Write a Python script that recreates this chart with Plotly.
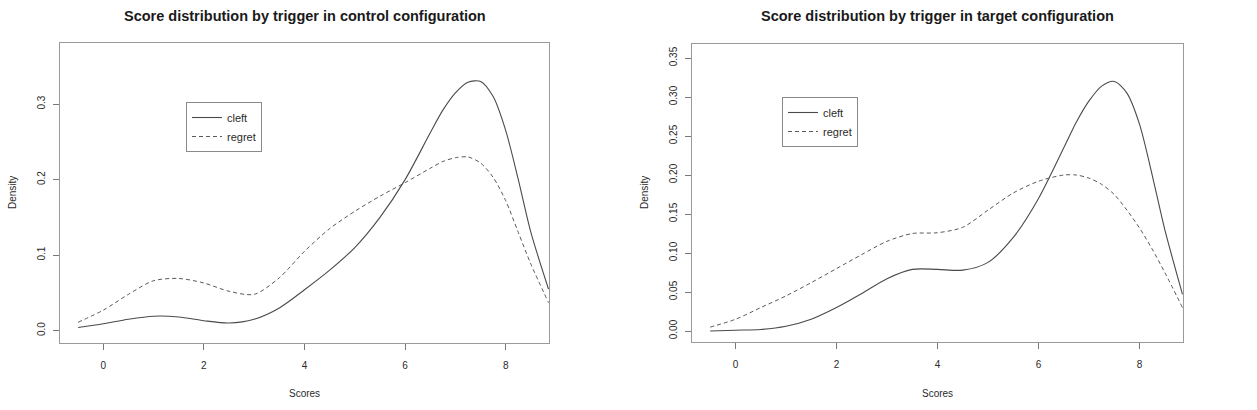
import plotly.graph_objects as go

# ---------------- data ----------------
scores = [-0.5, 0, 0.5, 1, 1.5, 2, 2.5, 3, 3.5, 4, 4.5, 5, 5.5, 6, 6.5, 6.75,
          7, 7.25, 7.5, 7.75, 8, 8.25, 8.5, 8.85]

control_cleft = [0.004, 0.009, 0.015, 0.019, 0.018, 0.013, 0.010, 0.015, 0.030, 0.054,
                 0.080, 0.110, 0.150, 0.200, 0.262, 0.292,
                 0.315, 0.329, 0.330, 0.310, 0.265, 0.200, 0.130, 0.055]
control_regret = [0.011, 0.027, 0.048, 0.066, 0.069, 0.063, 0.052, 0.048, 0.070, 0.105,
                  0.135, 0.158, 0.178, 0.196, 0.215, 0.224,
                  0.229, 0.230, 0.222, 0.203, 0.172, 0.130, 0.088, 0.037]

target_cleft = [0.000, 0.001, 0.002, 0.006, 0.015, 0.030, 0.048, 0.067, 0.079, 0.079,
                0.078, 0.088, 0.120, 0.170, 0.235, 0.268,
                0.295, 0.314, 0.320, 0.305, 0.265, 0.200, 0.130, 0.047]
target_regret = [0.005, 0.015, 0.030, 0.045, 0.062, 0.080, 0.098, 0.115, 0.125, 0.126,
                 0.133, 0.155, 0.177, 0.192, 0.200, 0.200,
                 0.196, 0.188, 0.175, 0.155, 0.132, 0.105, 0.075, 0.030]

x_ticks = [0, 2, 4, 6, 8]
y_ticks_control = [0.0, 0.1, 0.2, 0.3]
y_ticks_target = [0.00, 0.05, 0.10, 0.15, 0.20, 0.25, 0.30, 0.35]

titles = ["Score distribution by trigger in control configuration",
          "Score distribution by trigger in target configuration"]

# ---------------- styling ----------------
FONT = "Liberation Sans, Arial, Helvetica, sans-serif"
TXT = "#2a2a2a"
LINE = "#4a4a4a"
BOX = "#9a9a9a"
W, H = 1257, 410

fig = go.Figure()

solid = dict(color=LINE, width=1.1)
dashed = dict(color="#5a5a5a", width=1.0, dash="4px,3px")

fig.add_trace(go.Scatter(x=scores, y=control_cleft, mode="lines", name="cleft",
                         line=dict(shape="spline", smoothing=0.8, **solid),
                         xaxis="x", yaxis="y", legend="legend"))
fig.add_trace(go.Scatter(x=scores, y=control_regret, mode="lines", name="regret",
                         line=dict(shape="spline", smoothing=0.8, **dashed),
                         xaxis="x", yaxis="y", legend="legend"))
fig.add_trace(go.Scatter(x=scores, y=target_cleft, mode="lines", name="cleft",
                         line=dict(shape="spline", smoothing=0.8, **solid),
                         xaxis="x2", yaxis="y2", legend="legend2"))
fig.add_trace(go.Scatter(x=scores, y=target_regret, mode="lines", name="regret",
                         line=dict(shape="spline", smoothing=0.8, **dashed),
                         xaxis="x2", yaxis="y2", legend="legend2"))

# panel pixel boxes (left, right, top, bottom)
boxes = [(60, 549, 43, 343), (692, 1183, 44, 342)]

def dom_x(b):
    return [b[0] / W, b[1] / W]

def dom_y(b):
    return [1 - b[3] / H, 1 - b[2] / H]

common_x = dict(range=[-0.86, 8.86], tickvals=x_ticks, ticktext=[str(v) for v in x_ticks],
                ticks="outside", ticklen=6, tickcolor="#777", tickwidth=1,
                showline=True, mirror=True, linecolor=BOX, linewidth=1,
                showgrid=False, zeroline=False, automargin=False,
                tickfont=dict(family=FONT, size=10, color=TXT), ticklabelstandoff=7)
common_y = dict(ticks="outside", ticklen=6, tickcolor="#777", tickwidth=1,
                showline=True, mirror=True, linecolor=BOX, linewidth=1,
                showgrid=False, zeroline=False, automargin=False, tickangle=-90,
                tickfont=dict(family=FONT, size=10, color=TXT), ticklabelstandoff=4)

legend_style = dict(xanchor="left", yanchor="top", bgcolor="white",
                    bordercolor="#8a8a8a", borderwidth=1,
                    font=dict(family=FONT, size=11, color=TXT), itemwidth=30,
                    tracegroupgap=0)

fig.update_layout(
    width=W, height=H, margin=dict(l=0, r=0, t=0, b=0),
    paper_bgcolor="white", plot_bgcolor="white",
    font=dict(family=FONT, color=TXT),
    xaxis=dict(domain=dom_x(boxes[0]), anchor="y", **common_x),
    yaxis=dict(domain=dom_y(boxes[0]), anchor="x", range=[-0.0165, 0.381],
               tickvals=y_ticks_control, ticktext=[f"{v:.1f}" for v in y_ticks_control], **common_y),
    xaxis2=dict(domain=dom_x(boxes[1]), anchor="y2", **common_x),
    yaxis2=dict(domain=dom_y(boxes[1]), anchor="x2", range=[-0.0141, 0.368],
                tickvals=y_ticks_target, ticktext=[f"{v:.2f}" for v in y_ticks_target], **common_y),
    showlegend=True,
    legend=dict(x=186 / W, y=1 - 102 / H, **legend_style),
    legend2=dict(x=782 / W, y=1 - 97 / H, **legend_style),
)

ann = []
for i, b in enumerate(boxes):
    cx = (b[0] + b[1]) / 2
    ann.append(dict(text=f"<b>{titles[i]}</b>", x=cx / W, y=1 - 16 / H, xref="paper", yref="paper",
                    showarrow=False, xanchor="center", yanchor="middle",
                    font=dict(family=FONT, size=14.5, color="#1a1a1a")))
    ann.append(dict(text="Scores", x=cx / W, y=1 - 393 / H, xref="paper", yref="paper",
                    showarrow=False, xanchor="center", yanchor="middle",
                    font=dict(family=FONT, size=10, color=TXT)))
    ann.append(dict(text="Density", x=(b[0] - 48) / W, y=1 - ((b[2] + b[3]) / 2) / H,
                    xref="paper", yref="paper", textangle=-90,
                    showarrow=False, xanchor="center", yanchor="middle",
                    font=dict(family=FONT, size=10, color=TXT)))
fig.update_layout(annotations=ann)

fig.write_html("out.html")
